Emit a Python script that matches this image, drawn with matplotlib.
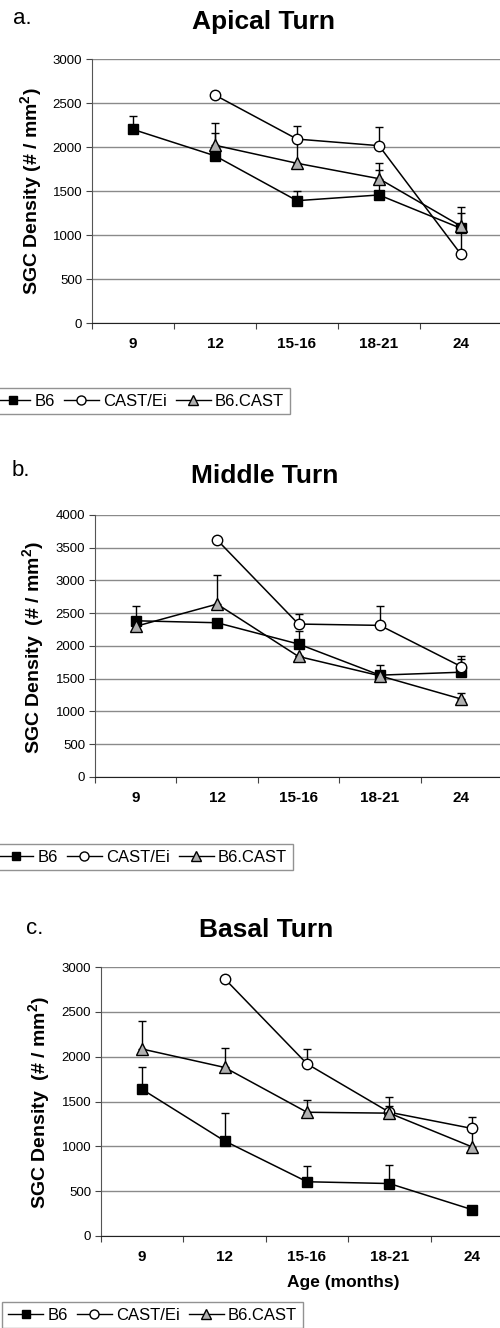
import numpy as np
import matplotlib
matplotlib.use("Agg")
import matplotlib.pyplot as plt
from matplotlib.lines import Line2D

plt.rcParams['font.family'] = ['Liberation Sans', 'DejaVu Sans']
plt.rcParams['mathtext.fontset'] = 'custom'
plt.rcParams['mathtext.rm'] = 'Liberation Sans'
plt.rcParams['mathtext.bf'] = 'Liberation Sans:bold'

nan = np.nan
ages = ['9', '12', '15-16', '18-21', '24']
strains = ['B6', 'CAST/Ei', 'B6.CAST']

# apical turn
apical_b6 = [2200, 1900, 1390, 1455, 1075]
apical_b6_err = [150, 255, 110, 285, 180]
apical_cast = [nan, 2590, 2090, 2015, 780]
apical_cast_err = [0, 0, 150, 210, 300]
apical_b6cast = [nan, 2020, 1815, 1640, 1100]
apical_b6cast_err = [0, 255, 270, 180, 215]

# middle turn
middle_b6 = [2385, 2355, 2030, 1555, 1600]
middle_b6_err = [230, 0, 200, 160, 240]
middle_cast = [nan, 3620, 2335, 2315, 1685]
middle_cast_err = [0, 0, 160, 290, 110]
middle_b6cast = [2300, 2640, 1840, 1545, 1190]
middle_b6cast_err = [0, 440, 0, 0, 90]

# basal turn
basal_b6 = [1635, 1060, 605, 585, 295]
basal_b6_err = [250, 310, 175, 210, 0]
basal_cast = [nan, 2870, 1920, 1380, 1200]
basal_cast_err = [0, 0, 165, 70, 125]
basal_b6cast = [2085, 1880, 1380, 1370, 995]
basal_b6cast_err = [310, 215, 140, 185, 180]

W, H = 500, 1328
fig = plt.figure(figsize=(W / 100, H / 100), dpi=100)

styles = [dict(marker='s', mfc='black', ms=7),
          dict(marker='o', mfc='white', ms=7.5),
          dict(marker='^', mfc='#b0b0b0', ms=8.5)]


def px_axes(left, right, top, bottom):
    return fig.add_axes([left / W, 1 - bottom / H, (right - left) / W, (bottom - top) / H])


def panel(ax, series, errs, ymax):
    x = np.arange(len(ages))
    for y, e, st in zip(series, errs, styles):
        y = np.array(y, dtype=float)
        e = np.array(e, dtype=float)
        ax.errorbar(x, y, yerr=[np.zeros_like(e), e], fmt='none', ecolor='black',
                    elinewidth=1, capsize=3, capthick=1, zorder=3)
        ax.plot(x, y, color='black', lw=1.1, marker=st['marker'], ms=st['ms'],
                mfc=st['mfc'], mec='black', mew=1, zorder=4)
    ax.set_xlim(-0.5, len(ages) - 0.5)
    ax.set_ylim(0, ymax)
    ax.set_yticks(np.arange(0, ymax + 1, 500))
    ax.yaxis.grid(True, color='#8a8a8a', lw=1)
    ax.set_axisbelow(True)
    ax.set_xticks(np.arange(-0.5, len(ages)), labels=[''] * (len(ages) + 1))
    ax.set_xticks(x, labels=ages, minor=True)
    ax.tick_params(axis='x', which='major', length=4, direction='out', color='#444')
    ax.tick_params(axis='x', which='minor', length=0, pad=10, labelsize=11)
    for lab in ax.get_xticklabels(minor=True):
        lab.set_fontweight('bold')
    ax.tick_params(axis='y', length=4, direction='out', labelsize=9.5, pad=3, color='#444')
    ax.spines['top'].set_visible(False)
    ax.spines['right'].set_visible(False)
    ax.spines['left'].set_color('#555555')
    ax.spines['bottom'].set_color('#222222')


def legend_at(right, yc):
    handles = [Line2D([], [], color='black', lw=1, marker=st['marker'],
                      ms=st['ms'] - 1, mfc=st['mfc'], mec='black') for st in styles]
    leg = fig.legend(handles, strains, loc='center right',
                     bbox_to_anchor=(right / W, 1 - yc / H), ncol=3, frameon=True,
                     fancybox=False, edgecolor='#777777', fontsize=12,
                     handlelength=2.1, handletextpad=0.25, columnspacing=0.55,
                     borderpad=0.35, borderaxespad=0)
    leg.get_frame().set_linewidth(1)


ylabel_a = r'SGC Density (# / mm$^{\mathbf{2}}$)'
ylabel_bc = r'SGC Density  (# / mm$^{\mathbf{2}}$)'

# panel a
ax_a = px_axes(92, 502, 59, 323)
panel(ax_a, [apical_b6, apical_cast, apical_b6cast],
      [apical_b6_err, apical_cast_err, apical_b6cast_err], 3000)
fig.text(13 / W, 1 - 19 / H, 'a.', fontsize=16, va='center', ha='left')
fig.text(263 / W, 1 - 22 / H, 'Apical Turn', fontsize=19, fontweight='bold', ha='center', va='center')
fig.text(32 / W, 1 - 191 / H, ylabel_a, fontsize=14, fontweight='bold', rotation=90,
         ha='center', va='center')
legend_at(290, 401)

# panel b
ax_b = px_axes(95, 502, 515, 777)
panel(ax_b, [middle_b6, middle_cast, middle_b6cast],
      [middle_b6_err, middle_cast_err, middle_b6cast_err], 4000)
fig.text(12 / W, 1 - 470 / H, 'b.', fontsize=16, va='center', ha='left')
fig.text(265 / W, 1 - 476 / H, 'Middle Turn', fontsize=19, fontweight='bold', ha='center', va='center')
fig.text(34 / W, 1 - 647 / H, ylabel_bc, fontsize=14, fontweight='bold', rotation=90,
         ha='center', va='center')
legend_at(293, 857)

# panel c
ax_c = px_axes(101, 513, 967, 1236)
panel(ax_c, [basal_b6, basal_cast, basal_b6cast],
      [basal_b6_err, basal_cast_err, basal_b6cast_err], 3000)
fig.text(26 / W, 1 - 929 / H, 'c.', fontsize=16, va='center', ha='left')
fig.text(266 / W, 1 - 930 / H, 'Basal Turn', fontsize=19, fontweight='bold', ha='center', va='center')
fig.text(40 / W, 1 - 1102 / H, ylabel_bc, fontsize=14, fontweight='bold', rotation=90,
         ha='center', va='center')
fig.text(343 / W, 1 - 1282 / H, 'Age (months)', fontsize=12.5, fontweight='bold',
         ha='center', va='center')
legend_at(303, 1315)

fig.savefig('out.png', dpi=100)
